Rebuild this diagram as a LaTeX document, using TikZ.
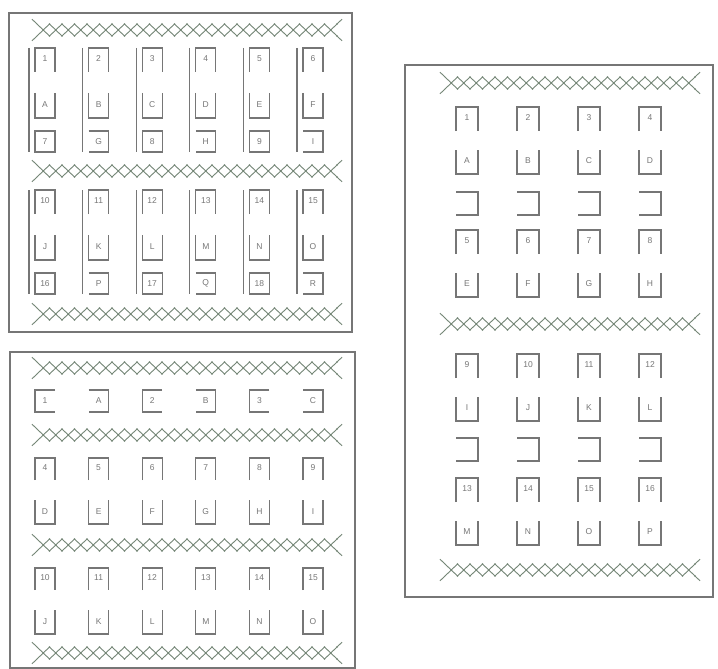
\documentclass[tikz,border=0pt]{standalone}
\usepackage{fontspec}
\setsansfont{Liberation Sans}
\renewcommand{\familydefault}{\sfdefault}

\definecolor{ink}{RGB}{118,118,118}
\definecolor{hedge}{RGB}{116,134,118}

% row of crossed strokes (left x, number of crosses, mid y)
\newcommand{\hedgerow}[3]{%
  \foreach \k in {1,...,#2}{
    \draw[hedgeline] (#1+12.5*\k-12.5,#3-6) -- (#1+12.5*\k,#3+6)
      (#1+12.5*\k-12.5,#3+6) -- (#1+12.5*\k,#3-6);
    \fill[hedge] (#1+12.5*\k-6.25,#3) circle (1pt)
      (#1+12.5*\k,#3-6) circle (0.8pt) (#1+12.5*\k,#3+6) circle (0.8pt);
  }
  \draw[hedgeline] (#1,#3-6) -- (#1-5,#3-10.8) (#1,#3+6) -- (#1-5,#3+10.8)
    (#1+12.5*#2,#3-6) -- (#1+12.5*#2+5,#3-10.8)
    (#1+12.5*#2,#3+6) -- (#1+12.5*#2+5,#3+10.8);
}

\begin{document}
\begin{tikzpicture}[x=1pt,y=-1pt,
  seat/.style={draw=ink,line width=1.1pt},
  frame/.style={draw=ink,line width=1.3pt},
  hedgeline/.style={draw=hedge,line width=0.9pt},
  lbl/.style={font=\fontsize{8.5}{9}\selectfont,text=ink,inner sep=0pt},
]
\useasboundingbox (0,0) rectangle (718,669);

% ============================================================
% (a) two blocks of six with a divider each
% ============================================================
\begin{scope}
  \draw[frame] (9,13) rectangle (352,332);
  \hedgerow{37}{24}{30}
  \hedgerow{37}{24}{171}
  \hedgerow{37}{24}{314}

  % block 1
  \foreach \i/\n/\l in {0/1/A,1/2/B,2/3/C,3/4/D,4/5/E,5/6/F}{
    \pgfmathsetmacro\cx{45+53.6*\i}
    \draw[seat] (\cx-16,48) -- (\cx-16,152);
    \draw[seat] (\cx-10,72) -- (\cx-10,48) -- (\cx+10,48) -- (\cx+10,72);
    \draw[seat] (\cx-10,93) -- (\cx-10,118) -- (\cx+10,118) -- (\cx+10,93);
    \node[lbl] (a-n\n) at (\cx,59) {\n};
    \node[lbl] (a-l\l) at (\cx,105) {\l};
  }
  \foreach \i/\n in {0/7,2/8,4/9}{
    \pgfmathsetmacro\cx{45+53.6*\i}
    \draw[seat] (\cx-10,131) rectangle (\cx+10,152);
    \node[lbl] (a-n\n) at (\cx,141.5) {\n};
  }
  \foreach \i/\l in {1/G,3/H,5/I}{
    \pgfmathsetmacro\cx{45+53.6*\i}
    \draw[seat] (\cx-10,131) -- (\cx+10,131) -- (\cx+10,152) -- (\cx-10,152);
    \node[lbl] (a-l\l) at (\cx,141.5) {\l};
  }

  % block 2
  \foreach \i/\n/\l in {0/10/J,1/11/K,2/12/L,3/13/M,4/14/N,5/15/O}{
    \pgfmathsetmacro\cx{45+53.6*\i}
    \draw[seat] (\cx-16,190) -- (\cx-16,294);
    \draw[seat] (\cx-10,214) -- (\cx-10,190) -- (\cx+10,190) -- (\cx+10,214);
    \draw[seat] (\cx-10,235) -- (\cx-10,260) -- (\cx+10,260) -- (\cx+10,235);
    \node[lbl] (a-n\n) at (\cx,201) {\n};
    \node[lbl] (a-l\l) at (\cx,247) {\l};
  }
  \foreach \i/\n in {0/16,2/17,4/18}{
    \pgfmathsetmacro\cx{45+53.6*\i}
    \draw[seat] (\cx-10,273) rectangle (\cx+10,294);
    \node[lbl] (a-n\n) at (\cx,283.5) {\n};
  }
  \foreach \i/\l in {1/P,3/Q,5/R}{
    \pgfmathsetmacro\cx{45+53.6*\i}
    \draw[seat] (\cx-10,273) -- (\cx+10,273) -- (\cx+10,294) -- (\cx-10,294);
    \node[lbl] (a-l\l) at (\cx,283.5) {\l};
  }
\end{scope}

% ============================================================
% (b) one facing row and two rows of six
% ============================================================
\begin{scope}
  \draw[frame] (10,352) rectangle (355,668);
  \hedgerow{37}{24}{368}
  \hedgerow{37}{24}{435}
  \hedgerow{37}{24}{545}
  \hedgerow{37}{24}{653}

  % facing pairs
  \foreach \i/\n in {0/1,2/2,4/3}{
    \pgfmathsetmacro\cx{45+53.6*\i}
    \draw[seat] (\cx+10,390) -- (\cx-10,390) -- (\cx-10,412) -- (\cx+10,412);
    \node[lbl] (b-n\n) at (\cx,401) {\n};
  }
  \foreach \i/\l in {1/A,3/B,5/C}{
    \pgfmathsetmacro\cx{45+53.6*\i}
    \draw[seat] (\cx-10,390) -- (\cx+10,390) -- (\cx+10,412) -- (\cx-10,412);
    \node[lbl] (b-l\l) at (\cx,401) {\l};
  }

  % rows of six
  \foreach \t/\row in {458/{0/4/D,1/5/E,2/6/F,3/7/G,4/8/H,5/9/I},
                       568/{0/10/J,1/11/K,2/12/L,3/13/M,4/14/N,5/15/O}}{
    \foreach \i/\n/\l in \row{
      \pgfmathsetmacro\cx{45+53.6*\i}
      \draw[seat] (\cx-10,\t+22) -- (\cx-10,\t) -- (\cx+10,\t) -- (\cx+10,\t+22);
      \draw[seat] (\cx-10,\t+42) -- (\cx-10,\t+66) -- (\cx+10,\t+66) -- (\cx+10,\t+42);
      \node[lbl] (b-n\n) at (\cx,\t+10) {\n};
      \node[lbl] (b-l\l) at (\cx,\t+54) {\l};
    }
  }
\end{scope}

% ============================================================
% (c) four columns, pairs with a spare seat between
% ============================================================
\begin{scope}
  \draw[frame] (405,65) rectangle (713,597);
  \hedgerow{445}{20}{83}
  \hedgerow{445}{20}{324}
  \hedgerow{445}{20}{570}

  \foreach \t/\row in {107/{0/1/A,1/2/B,2/3/C,3/4/D},
                       230/{0/5/E,1/6/F,2/7/G,3/8/H},
                       354/{0/9/I,1/10/J,2/11/K,3/12/L},
                       478/{0/13/M,1/14/N,2/15/O,3/16/P}}{
    \foreach \i/\n/\l in \row{
      \pgfmathsetmacro\cx{467+61*\i}
      \draw[seat] (\cx-11,\t+24) -- (\cx-11,\t) -- (\cx+11,\t) -- (\cx+11,\t+24);
      \draw[seat] (\cx-11,\t+43) -- (\cx-11,\t+67) -- (\cx+11,\t+67) -- (\cx+11,\t+43);
      \node[lbl] (c-n\n) at (\cx,\t+11) {\n};
      \node[lbl] (c-l\l) at (\cx,\t+54) {\l};
    }
  }

  % spare seats
  \foreach \t in {192,438}{
    \foreach \i in {0,...,3}{
      \pgfmathsetmacro\cx{467+61*\i}
      \draw[seat] (\cx-11,\t) -- (\cx+11,\t) -- (\cx+11,\t+23) -- (\cx-11,\t+23);
    }
  }
\end{scope}

\end{tikzpicture}
\end{document}
